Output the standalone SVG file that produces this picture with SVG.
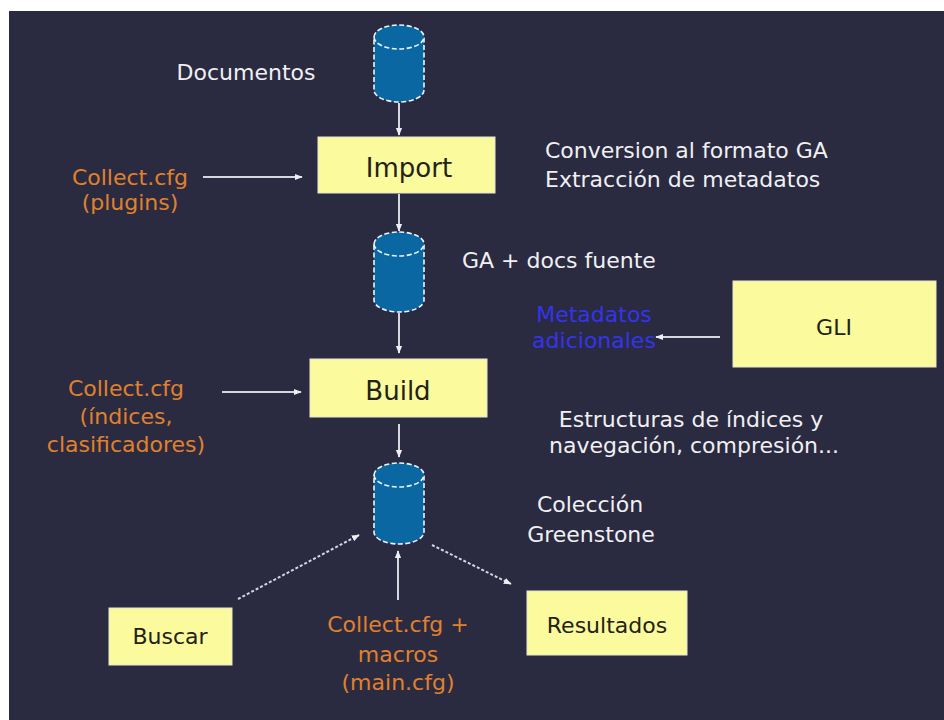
<svg xmlns="http://www.w3.org/2000/svg" width="944" height="720" viewBox="0 0 944 720">
<defs>
<style>
.t{font-family:"DejaVu Sans","Liberation Sans",sans-serif;font-size:22px}
.w{fill:#f0f0f2}
.o{fill:#e0812e}
.b{fill:#3434ec}
.k{fill:#222218}
.box{fill:#fbfa9c;stroke:#e8e8d0;stroke-width:1}
.cyl{fill:#0b67a2;stroke:#eaf4ff;stroke-width:1.6;stroke-dasharray:5 2.5}
.ln{stroke:#d6d6e0;stroke-width:2;fill:none}
.dl{stroke:#d6d6e0;stroke-width:2;fill:none;stroke-dasharray:3 2}
</style>
<marker id="ah" viewBox="0 0 10 10" refX="9" refY="5" markerWidth="4" markerHeight="4" orient="auto" markerUnits="strokeWidth">
<path d="M0,1 L10,5 L0,9 z" fill="#eeeef4"/>
</marker>
</defs>
<rect x="0" y="0" width="944" height="720" fill="#ffffff"/>
<rect x="9" y="11" width="935" height="709" fill="#2a2a41"/>

<g id="connectors">
<line class="ln" x1="399" y1="103" x2="399" y2="135" marker-end="url(#ah)"/>
<line class="ln" x1="399" y1="194" x2="399" y2="231" marker-end="url(#ah)"/>
<line class="ln" x1="399" y1="313" x2="399" y2="353" marker-end="url(#ah)"/>
<line class="ln" x1="399" y1="424" x2="399" y2="457" marker-end="url(#ah)"/>
<line class="ln" x1="203" y1="177" x2="302" y2="177" marker-end="url(#ah)"/>
<line class="ln" x1="222" y1="392" x2="301" y2="392" marker-end="url(#ah)"/>
<line class="ln" x1="720" y1="337" x2="656" y2="337" marker-end="url(#ah)"/>
<line class="ln" x1="398" y1="600" x2="398" y2="551" marker-end="url(#ah)"/>
<line class="dl" x1="238" y1="599" x2="359" y2="535" marker-end="url(#ah)"/>
<line class="dl" x1="432" y1="545" x2="511" y2="584" marker-end="url(#ah)"/>
</g>

<g id="documentos">
<path class="cyl" d="M374,37 A25,12 0 0 1 424,37 L424,90 A25,12 0 0 1 374,90 Z"/>
<path class="cyl" d="M374,37 A25,12 0 0 0 424,37" fill="none"/>
<text class="t w" x="246" y="80" text-anchor="middle">Documentos</text>
</g>

<g id="import">
<rect class="box" x="318" y="137" width="177" height="56"/>
<text class="t k" x="409" y="177" text-anchor="middle" style="font-size:26px">Import</text>
</g>

<g id="import-note">
<text class="t w" x="545" y="158">Conversion al formato GA</text>
<text class="t w" x="545" y="187">Extracción de metadatos</text>
</g>

<g id="collect-plugins">
<text class="t o" x="130" y="185" text-anchor="middle">Collect.cfg</text>
<text class="t o" x="130" y="210" text-anchor="middle">(plugins)</text>
</g>

<g id="ga-docs">
<path class="cyl" d="M374,244 A25,12 0 0 1 424,244 L424,300 A25,12 0 0 1 374,300 Z"/>
<path class="cyl" d="M374,244 A25,12 0 0 0 424,244" fill="none"/>
<text class="t w" x="462" y="268">GA + docs fuente</text>
</g>

<g id="metadatos">
<text class="t b" x="594" y="322" text-anchor="middle">Metadatos</text>
<text class="t b" x="594" y="348" text-anchor="middle">adicionales</text>
</g>

<g id="gli">
<rect class="box" x="733" y="281" width="203" height="86"/>
<text class="t k" x="834" y="335" text-anchor="middle">GLI</text>
</g>

<g id="build">
<rect class="box" x="310" y="359" width="177" height="58"/>
<text class="t k" x="398" y="400" text-anchor="middle" style="font-size:26px">Build</text>
</g>

<g id="collect-indices">
<text class="t o" x="126" y="396" text-anchor="middle">Collect.cfg</text>
<text class="t o" x="126" y="424" text-anchor="middle">(índices,</text>
<text class="t o" x="126" y="452" text-anchor="middle">clasificadores)</text>
</g>

<g id="build-note">
<text class="t w" x="691" y="427" text-anchor="middle">Estructuras de índices y</text>
<text class="t w" x="694" y="453" text-anchor="middle">navegación, compresión...</text>
</g>

<g id="coleccion">
<path class="cyl" d="M374,475 A25,12 0 0 1 424,475 L424,532 A25,12 0 0 1 374,532 Z"/>
<path class="cyl" d="M374,475 A25,12 0 0 0 424,475" fill="none"/>
<text class="t w" x="590" y="512" text-anchor="middle">Colección</text>
<text class="t w" x="591" y="542" text-anchor="middle">Greenstone</text>
</g>

<g id="buscar">
<rect class="box" x="109" y="608" width="123" height="57"/>
<text class="t k" x="170" y="644" text-anchor="middle">Buscar</text>
</g>

<g id="collect-macros">
<text class="t o" x="398" y="632" text-anchor="middle">Collect.cfg +</text>
<text class="t o" x="398" y="662" text-anchor="middle">macros</text>
<text class="t o" x="398" y="690" text-anchor="middle">(main.cfg)</text>
</g>

<g id="resultados">
<rect class="box" x="527" y="591" width="160" height="64"/>
<text class="t k" x="607" y="633" text-anchor="middle">Resultados</text>
</g>
</svg>
